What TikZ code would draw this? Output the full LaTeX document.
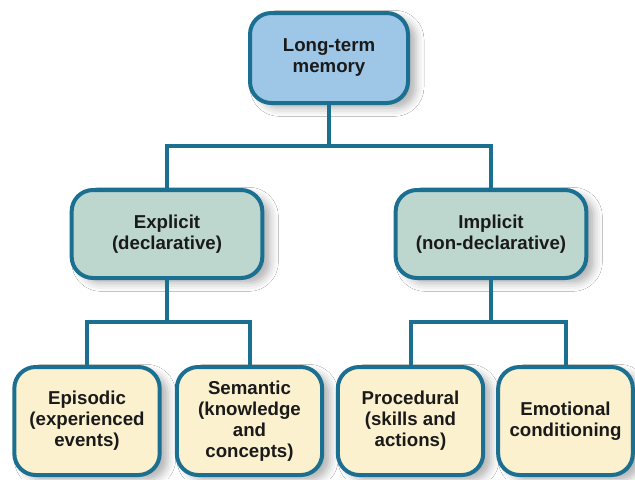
\documentclass[tikz,border=0pt]{standalone}
\usepackage{fontspec}
\setmainfont{Liberation Sans}
\usetikzlibrary{shadows.blur}
\definecolor{edge}{HTML}{1B7091}
\definecolor{topfill}{HTML}{9EC6E6}
\definecolor{midfill}{HTML}{BDD6CE}
\definecolor{lowfill}{HTML}{FCF1CF}
\definecolor{ink}{HTML}{1A1A1A}
\tikzset{
  memnode/.style={draw=edge, line width=3pt, rounded corners=16pt, align=center,
    font=\bfseries\fontsize{14}{15.75}\selectfont, text=ink, inner sep=0pt,
    blur shadow={shadow xshift=6pt, shadow yshift=-4pt, shadow blur radius=6pt, shadow opacity=30}},
  topbox/.style={memnode, fill=topfill, minimum width=118.5pt, minimum height=67.5pt},
  midbox/.style={memnode, fill=midfill, minimum width=143pt, minimum height=66pt},
  lowbox/.style={memnode, fill=lowfill, minimum width=109pt, minimum height=81pt},
  link/.style={draw=edge, line width=3pt, line cap=rect}
}
\begin{document}
\begin{tikzpicture}[x=0.75pt, y=-0.75pt]
  \useasboundingbox (0,0) rectangle (635,479);
  \fill[white] (0,0) rectangle (635,479);

  % level 0
  \node[topbox] (ltm) at (329,58) {Long-term\\memory};
  % level 1
  \node[midbox] (ex) at (167,234) {Explicit\\(declarative)};
  \node[midbox] (im) at (491,234) {Implicit\\(non-declarative)};
  % level 2
  \node[lowbox] (epi) at (87,421) {Episodic\\(experienced\\events)};
  \node[lowbox] (sem) at (249.5,421) {Semantic\\(knowledge\\and\\concepts)};
  \node[lowbox] (pro) at (410.5,421) {Procedural\\(skills and\\actions)};
  \node[lowbox, minimum width=101pt] (emo) at (565.5,421) {Emotional\\conditioning};

  % junction points of the tree
  \coordinate (j0) at (329,146);
  \coordinate (j1) at (167,322);
  \coordinate (j2) at (491,322);

  \draw[link] (ltm.south) -- (j0);
  \draw[link] (ex.north) |- (j0) -| (im.north);
  \draw[link] (ex.south) -- (j1);
  \draw[link] (epi.north) |- (j1) -| (sem.north);
  \draw[link] (im.south) -- (j2);
  \draw[link] (pro.north) |- (j2) -| (emo.north);
\end{tikzpicture}
\end{document}
